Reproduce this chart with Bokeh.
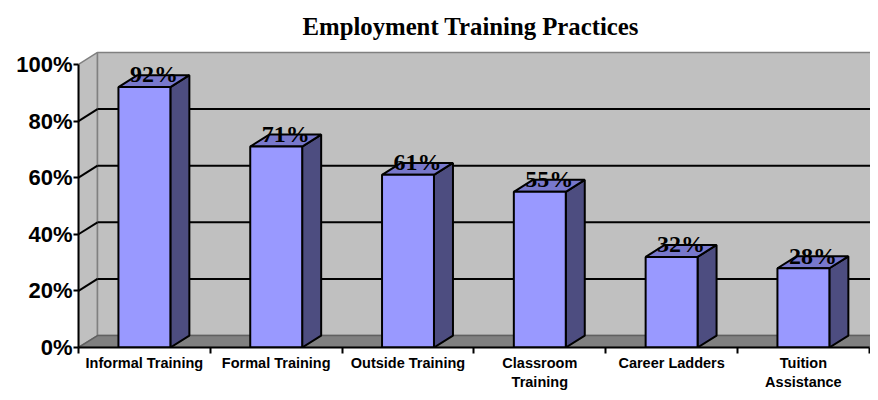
from bokeh.plotting import figure
from bokeh.models import Range1d, FixedTicker
from bokeh.embed import file_html
from bokeh.resources import INLINE
from bokeh.core.properties import value

# ---- data ----
categories = ["Informal Training", "Formal Training", "Outside Training",
              "Classroom\nTraining", "Career Ladders", "Tuition\nAssistance"]
values = [92, 71, 61, 55, 32, 28]
y_ticks = [0, 20, 40, 60, 80, 100]
y_tick_labels = ["0%", "20%", "40%", "60%", "80%", "100%"]
title_text = "Employment Training Practices"

# ---- geometry (3D look) ----
PX_X = 131.8         # pixels per category
PX_Y = 2.84          # pixels per percent
X_END = (870 - 78) / PX_X
Y_END = 300 / PX_Y
DX = 19 / PX_X       # depth offset in x data units
DY = 12 / PX_Y       # depth offset in y data units
HW = 0.197           # bar half width

p = figure(width=870, height=392, output_backend="svg", toolbar_location=None,
           x_range=Range1d(0, X_END), y_range=Range1d(0, Y_END),
           min_border_left=78, min_border_right=0, min_border_top=48,
           min_border_bottom=44, title=title_text)
p.outline_line_color = None
p.xgrid.visible = False
p.ygrid.visible = False
p.background_fill_color = "white"
p.border_fill_color = "white"

p.title.align = "left"
p.title.offset = 224
p.title.standoff = 14
p.title.vertical_align = "top"
p.title.text_font = "Liberation Serif"
p.title.text_font_style = "bold"
p.title.text_font_size = "24.75px"
p.title.text_color = "black"

n = len(values)
WALL_R = X_END + 0.3

# walls and floor
p.patch([0, 0, DX, DX], [0, 100, 100 + DY, DY], fill_color="#C0C0C0",
        line_color="#808080", line_width=1.5)
p.patch([DX, DX, WALL_R, WALL_R], [DY, 100 + DY, 100 + DY, DY],
        fill_color="#C0C0C0", line_color="#808080", line_width=1.5)
p.patch([0, n, n + DX, DX], [0, 0, DY, DY], fill_color="#808080",
        line_color="#606060", line_width=1.5)

# gridlines on back wall and left wall
grid_vals = [t for t in y_ticks if 0 < t < 100]
p.segment(x0=[DX] * len(grid_vals), y0=[g + DY for g in grid_vals],
          x1=[WALL_R] * len(grid_vals), y1=[g + DY for g in grid_vals],
          line_color="black", line_width=2)
p.segment(x0=[0] * len(grid_vals), y0=grid_vals,
          x1=[DX] * len(grid_vals), y1=[g + DY for g in grid_vals],
          line_color="black", line_width=2)

# bars
xc = [i + 0.5 for i in range(n)]
left = [c - HW for c in xc]
right = [c + HW for c in xc]
side_xs = [[r, r + DX, r + DX, r] for r in right]
side_ys = [[0, DY, v + DY, v] for v in values]
top_xs = [[l, r, r + DX, l + DX] for l, r in zip(left, right)]
top_ys = [[v, v, v + DY, v + DY] for v in values]
p.patches(side_xs, side_ys, fill_color="#4D4D80", line_color="black", line_width=2)
p.patches(top_xs, top_ys, fill_color="#7878CC", line_color="black", line_width=2)
p.quad(left=left, right=right, bottom=0, top=values, fill_color="#9999FF",
       line_color="black", line_width=2)

# data labels
p.text(x=[c + DX / 2 for c in xc], y=[v + 4.5 for v in values],
       text=[f"{v}%" for v in values], text_align="center",
       text_baseline="alphabetic", text_font=value("Liberation Serif"),
       text_font_style="bold", text_font_size="24px", text_color="black")

# axes
yax = p.yaxis[0]
yax.bounds = (0, 100)
yax.ticker = FixedTicker(ticks=y_ticks)
yax.major_label_overrides = {t: l for t, l in zip(y_ticks, y_tick_labels)}
yax.major_label_text_font = "Liberation Sans"
yax.major_label_text_font_style = "bold"
yax.major_label_text_font_size = "22px"
yax.major_label_text_color = "black"
yax.major_label_standoff = 1
yax.axis_line_width = 2
yax.axis_line_color = "black"
yax.major_tick_out = 5
yax.major_tick_in = 0
yax.major_tick_line_width = 2
yax.major_tick_line_color = "black"
yax.minor_tick_line_color = None

xax = p.xaxis[0]
xax.bounds = (0, n)
xax.ticker = FixedTicker(ticks=xc, minor_ticks=list(range(n + 1)))
xax.major_label_overrides = {c: l for c, l in zip(xc, categories)}
xax.major_label_text_font = "Liberation Sans"
xax.major_label_text_font_style = "bold"
xax.major_label_text_font_size = "14.5px"
xax.major_label_text_color = "black"
xax.major_label_standoff = 1
xax.axis_line_width = 2
xax.axis_line_color = "black"
xax.major_tick_line_color = None
xax.major_tick_out = 5
xax.major_tick_in = 0
xax.minor_tick_out = 6
xax.minor_tick_in = 0
xax.minor_tick_line_width = 2
xax.minor_tick_line_color = "black"

open("out.html", "w").write(file_html(p, INLINE))
